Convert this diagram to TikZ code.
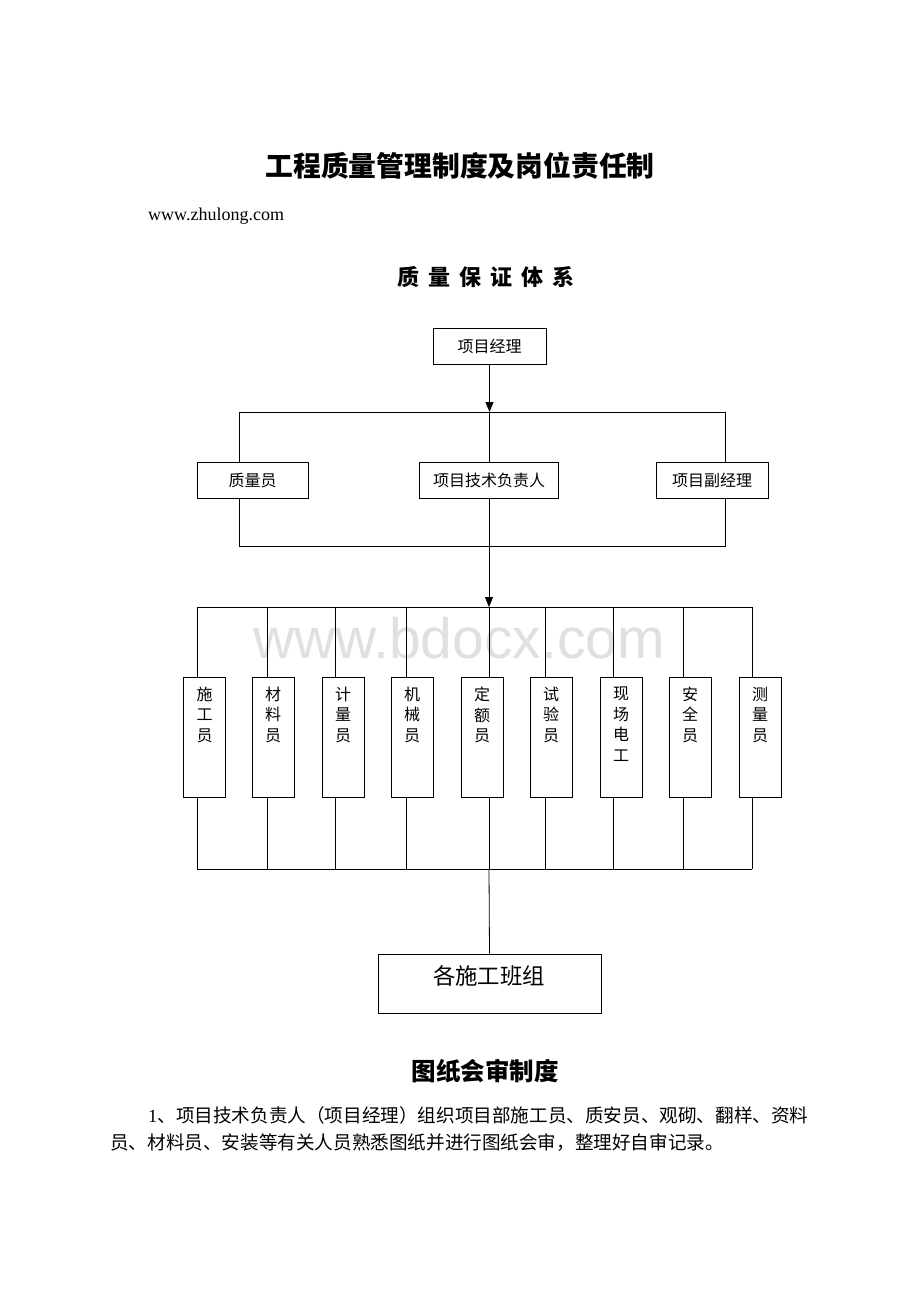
\documentclass[tikz,border=0pt]{standalone}
\usepackage{fontspec}
\setmainfont{Liberation Serif}
\setsansfont{Liberation Sans}
\newfontfamily\cjk{Noto Sans CJK SC}
\usetikzlibrary{arrows.meta}
\begin{document}
\begin{tikzpicture}[x=1pt,y=-1pt,
  box/.style={draw,line width=0.9pt,inner sep=0pt,minimum height=36pt,font=\cjk\fontsize{16}{16}\selectfont},
  tallbox/.style={draw,line width=0.9pt,inner sep=0pt,minimum width=42pt,minimum height=120pt},
  vtext/.style={inner sep=0pt,align=center,font=\cjk\fontsize{16}{20.7}\selectfont},
  conn/.style={line width=0.8pt},
  arr/.style={conn,-{Triangle[length=10pt,width=8pt]}}]
\useasboundingbox (0,0) rectangle (920,1302);
\fill[white] (0,0) rectangle (920,1302);

% watermark
\node[font=\sffamily\fontsize{57}{57}\selectfont,text=black!12,anchor=base,inner sep=0pt] (wm) at (459,658) {www.bdocx.com};

% headings
\node[font=\cjk\bfseries\fontsize{27.8}{27.8}\selectfont,inner sep=0pt] (title) at (460,166) {工程质量管理制度及岗位责任制};
\node[font=\rmfamily\fontsize{18}{18}\selectfont,anchor=base west,inner sep=0pt] (url) at (148,220) {www.zhulong.com};
\node[font=\cjk\bfseries\fontsize{22}{22}\selectfont,inner sep=0pt] (h1) at (486,277) {质\hspace{9pt}量\hspace{9pt}保\hspace{9pt}证\hspace{9pt}体\hspace{9pt}系};

% top level
\node[box,minimum width=113pt] (pm) at (489.5,346) {项目经理};
\node[box,minimum width=111pt] (qa) at (252.5,480.5) {质量员};
\node[box,minimum width=139pt] (tech) at (489,480.5) {项目技术负责人};
\node[box,minimum width=112pt] (dep) at (712,480.5) {项目副经理};

\coordinate (tl) at (239,412);
\coordinate (tr) at (725,412);
\coordinate (bl) at (239,546);
\coordinate (br) at (725,546);
\coordinate (bc) at (489,546);
\coordinate (sc) at (489,607);

\draw[conn] (tl) -- (tr);
\draw[conn] (tl) -- (tl |- qa.north);
\draw[conn] (tr) -- (tr |- dep.north);
\draw[conn] (tech.north |- tl) -- (tech.north);
\draw[arr] (pm.south) -- (pm.south |- tl);
\draw[conn] (tl |- qa.south) -- (bl) -- (br) -- (tr |- dep.south);
\draw[conn] (tech.south) -- (bc);
\draw[arr] (bc) -- (sc);

% second level
\foreach \bx/\lx/\t [count=\i] in {204.5/197/{施\\工\\员},273/267/{材\\料\\员},343/335/{计\\量\\员},412/406/{机\\械\\员},482/489/{定\\额\\员},551/545/{试\\验\\员},621/613/{现\\场\\电\\工},690/683/{安\\全\\员},760/752/{测\\量\\员}}{
  \node[tallbox] (b\i) at (\bx,737) {};
  \node[vtext,anchor=north] (t\i) at ([yshift=-10pt]b\i.north) {\t};
  \coordinate (s\i) at (\lx,607);
  \coordinate (e\i) at (\lx,869);
  \draw[conn] (s\i) -- (s\i |- b\i.north);
  \draw[conn] (s\i |- b\i.south) -- (e\i);
}
\draw[conn] (s1) -- (s9);
\draw[conn] (e1) -- (e9);

\node[draw,line width=0.9pt,minimum width=223pt,minimum height=59pt,inner sep=0pt] (crew) at (489.5,983.5) {};
\node[font=\cjk\fontsize{22.4}{22.4}\selectfont,inner sep=0pt] (crewt) at (489,976) {各施工班组};
\coordinate (ec) at (489,869);
\draw[conn] (ec) -- (crew.north);

% lower text
\node[font=\cjk\bfseries\fontsize{24.5}{24.5}\selectfont,inner sep=0pt] (h2) at (485,1071) {图纸会审制度};
\node[font=\cjk\fontsize{18.6}{18.6}\selectfont,anchor=west,inner sep=0pt] (p1) at (148,1115) {{\rmfamily 1}、项目技术负责人（项目经理）组织项目部施工员、质安员、观砌、翻样、资料};
\node[font=\cjk\fontsize{18.6}{18.6}\selectfont,anchor=west,inner sep=0pt] (p2) at (110,1143) {员、材料员、安装等有关人员熟悉图纸并进行图纸会审，整理好自审记录。};
\end{tikzpicture}
\end{document}
